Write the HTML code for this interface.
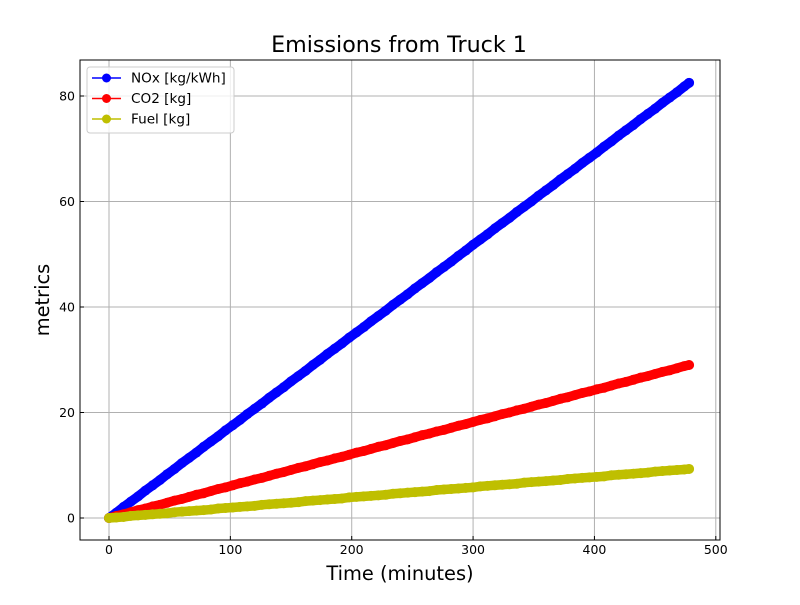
<!DOCTYPE html>
<html><head><meta charset="utf-8"><style>
body{margin:0;background:#fff}
svg{font-family:"DejaVu Sans","Liberation Sans",sans-serif}
</style></head><body>
<svg id="chart" width="800" height="600" xmlns="http://www.w3.org/2000/svg">
<rect width="800" height="600" fill="#fff"/>
<text x="399" y="52" text-anchor="middle" font-size="22.2">Emissions from Truck 1</text>
<g id="grid"></g>
<g id="series"></g>
<rect x="80" y="60" width="640" height="480" fill="none" stroke="#000" stroke-width="1"/>
<g id="ticks"></g>
<text x="400" y="580" text-anchor="middle" font-size="19.4">Time (minutes)</text>
<text x="49" y="300" text-anchor="middle" font-size="19.4" transform="rotate(-90 49 300)">metrics</text>
<g id="legend">
<rect x="87" y="67" width="147" height="66" rx="3" fill="#fff" fill-opacity="0.8" stroke="#ccc"/>
</g>
</svg>
<script>
const times=[0,6,12,18,24,30,36,42,48,54,60,66,72,78,84,90,96,102,108,114,120,126,132,138,144,150,156,162,168,174,180,186,192,198,204,210,216,222,228,234,240,246,252,258,264,270,276,282,288,294,300,306,312,318,324,330,336,342,348,354,360,366,372,378,384,390,396,402,408,414,420,426,432,438,444,450,456,462,468,474,478];
const noxValues=[0,1.0,2.1,3.1,4.1,5.2,6.2,7.2,8.3,9.3,10.4,11.4,12.4,13.5,14.5,15.5,16.6,17.6,18.6,19.7,20.7,21.7,22.8,23.8,24.8,25.9,26.9,27.9,29.0,30.0,31.1,32.1,33.1,34.2,35.2,36.2,37.3,38.3,39.3,40.4,41.4,42.4,43.5,44.5,45.5,46.6,47.6,48.6,49.7,50.7,51.8,52.8,53.8,54.9,55.9,56.9,58.0,59.0,60.0,61.1,62.1,63.1,64.2,65.2,66.2,67.3,68.3,69.3,70.4,71.4,72.5,73.5,74.5,75.6,76.6,77.6,78.7,79.7,80.7,81.8,82.5];
const co2Values=[0,0.4,0.7,1.1,1.5,1.8,2.2,2.5,2.9,3.3,3.6,4.0,4.4,4.7,5.1,5.5,5.8,6.2,6.6,6.9,7.3,7.6,8.0,8.4,8.7,9.1,9.5,9.8,10.2,10.6,10.9,11.3,11.6,12.0,12.4,12.7,13.1,13.5,13.8,14.2,14.6,14.9,15.3,15.7,16.0,16.4,16.7,17.1,17.5,17.8,18.2,18.6,18.9,19.3,19.7,20.0,20.4,20.7,21.1,21.5,21.8,22.2,22.6,22.9,23.3,23.7,24.0,24.4,24.7,25.1,25.5,25.8,26.2,26.6,26.9,27.3,27.7,28.0,28.4,28.8,29.0];
const fuelValues=[0,0.1,0.2,0.4,0.5,0.6,0.7,0.8,0.9,1.1,1.2,1.3,1.4,1.5,1.6,1.8,1.9,2.0,2.1,2.2,2.3,2.5,2.6,2.7,2.8,2.9,3.0,3.2,3.3,3.4,3.5,3.6,3.7,3.9,4.0,4.1,4.2,4.3,4.4,4.6,4.7,4.8,4.9,5.0,5.1,5.3,5.4,5.5,5.6,5.7,5.8,6.0,6.1,6.2,6.3,6.4,6.5,6.7,6.8,6.9,7.0,7.1,7.2,7.4,7.5,7.6,7.7,7.8,7.9,8.1,8.2,8.3,8.4,8.5,8.6,8.8,8.9,9.0,9.1,9.2,9.3];
const xTicks=[0,100,200,300,400,500];
const yTicks=[0,20,40,60,80];
const seriesNames=["NOx [kg/kWh]","CO2 [kg]","Fuel [kg]"];
const seriesColors=["#0000ff","#ff0000","#bfbf00"];
const NS="http://www.w3.org/2000/svg";
function xs(v){return 109+v*1.2136;}
function ys(v){return 518-v*5.275;}
function mk(tag,attrs,parent){const e=document.createElementNS(NS,tag);for(const k in attrs)e.setAttribute(k,attrs[k]);parent.appendChild(e);return e;}
const grid=document.getElementById('grid'),ticks=document.getElementById('ticks'),ser=document.getElementById('series'),leg=document.getElementById('legend');
xTicks.forEach(t=>{const x=xs(t);
 const g=mk('line',{x1:x,x2:x,y1:60,y2:540,stroke:'#b0b0b0','stroke-width':1},grid);
 
 
 const tk=mk('line',{x1:x,x2:x,y1:540,y2:536,stroke:'#000'},ticks);
 
 
 const l=mk('text',{x:x,y:554,'text-anchor':'middle','font-size':12.5},ticks);l.textContent=t;
 
 
});
yTicks.forEach(t=>{const y=ys(t);
 const g=mk('line',{x1:80,x2:720,y1:y,y2:y,stroke:'#b0b0b0','stroke-width':1},grid);
 
 
 const tk=mk('line',{x1:80,x2:84,y1:y,y2:y,stroke:'#000'},ticks);
 
 
 const l=mk('text',{x:75,y:y+4.5,'text-anchor':'end','font-size':12.5},ticks);l.textContent=t;
 
 
});
[noxValues,co2Values,fuelValues].forEach((vals,si)=>{
 const n=Math.min(times.length,vals.length);
 const g=mk('g',{},ser);
 
 
 let d='';for(let i=0;i<n;i++)d+=(i?'L':'M')+xs(times[i])+' '+ys(vals[i]);
 const band=mk('path',{d:d,fill:'none',stroke:seriesColors[si],'stroke-width':9.5,'stroke-linecap':'round','stroke-linejoin':'round'},g);
 
 
 const p=mk('path',{d:d,fill:'none',stroke:seriesColors[si],'stroke-width':1.5},g);
 
 
 for(let i=0;i<n;i++){const c=mk('circle',{cx:xs(times[i]),cy:ys(vals[i]),r:5,fill:seriesColors[si]},g);
  
  }
 const ly=78+si*20.5;
 const ll=mk('line',{x1:92,x2:121,y1:ly,y2:ly,stroke:seriesColors[si],'stroke-width':1.5},leg);
 
 
 const lc=mk('circle',{cx:106.5,cy:ly,r:4.5,fill:seriesColors[si]},leg);
 
 
 const lt=mk('text',{x:131,y:ly+4.5,'font-size':13.6},leg);lt.textContent=seriesNames[si];
 
 
});
</script>
</body></html>
